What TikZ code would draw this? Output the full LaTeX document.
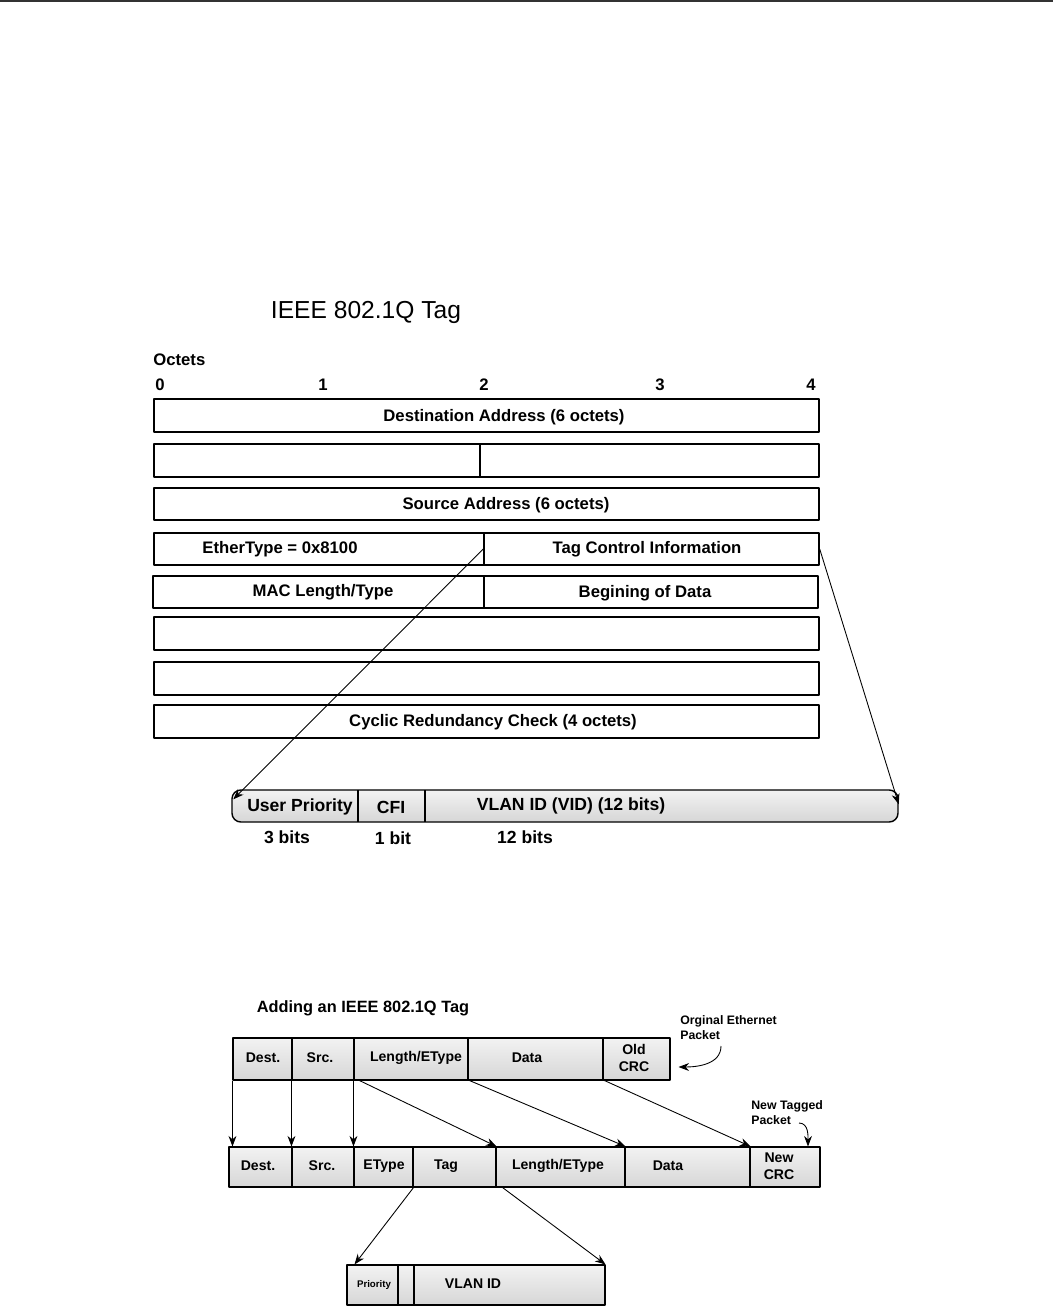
\documentclass[tikz,border=0pt]{standalone}
\usepackage{fontspec}
\setmainfont{Liberation Sans}
\usetikzlibrary{fit,arrows.meta}

\begin{document}
\begin{tikzpicture}[x=0.02cm,y=-0.02cm,line join=round,>={Stealth[length=6pt,width=4.5pt]},
		cell/.style={draw,line width=0.8pt,inner sep=0pt},
		pkt/.style={cell,line width=0.6pt,top color=gray!10,bottom color=gray!32},
		hdr/.style={font=\fontsize{14}{16}\selectfont,inner sep=0pt},
		lbl/.style={font=\fontsize{9.5}{11}\selectfont\bfseries,inner sep=0pt},
		bitlbl/.style={font=\fontsize{10}{12}\selectfont\bfseries,inner sep=0pt},
		pktlbl/.style={font=\fontsize{8}{9.5}\selectfont\bfseries,inner sep=0pt,align=center},
		note/.style={font=\fontsize{7}{8.6}\selectfont\bfseries,inner sep=0pt,align=left},
		link/.style={->,line width=0.5pt}]
	\useasboundingbox (0,0) rectangle (1053,1310);
	\draw[line width=1.4pt,black!80] (0,1) -- (1053,1);
	% frame layout with the tag
	\node[hdr] (tagtitle) at (366,312) {IEEE 802.1Q Tag};
	\node[lbl,anchor=west] (octets) at (153,360) {Octets};
	\foreach \n/\x in {0/160,1/323,2/484,3/660,4/811}
		\node[lbl] (oct\n) at (\x,385) {\n};
	\node[cell,fit={(154,399) (819,432)}] (dstrow) {};
	\node[lbl] (dsttxt) at (504,417) {Destination Address (6 octets)};
	\node[cell,fit={(154,444) (480,477)}] (dstlo) {};
	\node[cell,fit={(480,444) (819,477)}] (srchi) {};
	\node[cell,fit={(154,488) (819,520)}] (srcrow) {};
	\node[lbl] (srctxt) at (506,505) {Source Address (6 octets)};
	\node[cell,fit={(154,533) (484,565)}] (ethtype) {};
	\node[lbl] (ethtxt) at (280,549) {EtherType = 0x8100};
	\node[cell,fit={(484,533) (819,565)}] (tagctl) {};
	\node[lbl] (tagtxt) at (647,549) {Tag Control Information};
	\node[cell,fit={(153,576) (484,608)}] (mactype) {};
	\node[lbl] (mactxt) at (323,592) {MAC Length/Type};
	\node[cell,fit={(484,576) (818,608)}] (databeg) {};
	\node[lbl] (begtxt) at (645,593) {Begining of Data};
	\node[cell,fit={(154,617) (819,650)}] (datarowa) {};
	\node[cell,fit={(154,662) (819,695)}] (datarowb) {};
	\node[cell,fit={(154,705) (819,738)}] (crcrow) {};
	\node[lbl] (crctxt) at (493,722) {Cyclic Redundancy Check (4 octets)};
	% tag control bits
	\node[pkt,line width=0.8pt,rounded corners=5pt,fit={(232,790) (898,822)}] (tcibar) {};
	\draw[line width=0.8pt] (358,790) -- (358,822) (425,790) -- (425,822);
	\node[bitlbl] (uptxt) at (300,807) {User Priority};
	\node[bitlbl] (cfitxt) at (391,807) {CFI};
	\node[bitlbl] (vidtxt) at (571,806) {VLAN ID (VID) (12 bits)};
	\node[bitlbl] (upbits) at (287,837) {3 bits};
	\node[bitlbl] (cfibits) at (393,838) {1 bit};
	\node[bitlbl] (vidbits) at (525,837) {12 bits};
	\draw[link] (tagctl.west) -- ([shift={(0.04cm,-0.2cm)}]tcibar.north west);
	\draw[link] (tagctl.east) -- ([yshift=-0.3cm]tcibar.north east);
	% adding the tag
	\node[font=\fontsize{9.3}{11}\selectfont\bfseries,inner sep=0pt] (addtitle) at (363,1008) {Adding an IEEE 802.1Q Tag};
	\foreach \nm/\xa/\xb/\tc/\tx in {desta/233/292/263/Dest.,srca/292/354/320/Src.,lena/354/468/416/{Length/EType},dataa/468/603/527/Data,crca/603/670/634/{Old\\CRC}}{
		\node[pkt,fit={(\xa,1038) (\xb,1080)}] (\nm) {};
		\node[pktlbl] (\nm txt) at (\tc,1058) {\tx};
	}
	\foreach \nm/\xa/\xb/\tc/\tx in {destb/229/292/258/Dest.,srcb/292/354/322/Src.,etypeb/354/413/384/EType,tagb/413/496/446/Tag,lenb/496/625/558/{Length/EType},datab/625/750/668/Data,crcb/750/820/779/{New\\CRC}}{
		\node[pkt,fit={(\xa,1147) (\xb,1187)}] (\nm) {};
		\node[pktlbl] (\nm txt) at (\tc,1166) {\tx};
	}
	\node[note,anchor=north west] (origlbl) at (680,1015) {Orginal Ethernet\\Packet};
	\node[note,anchor=north west] (newlbl) at (751,1100) {New Tagged\\Packet};
	\coordinate (origtail) at (721,1046);
	\coordinate (newtail) at (799,1123);
	\draw[link] (origtail) to[out=-90,in=0] ([shift={(0.16cm,-0.16cm)}]crca.east);
	\draw[link] (newtail) to[out=0,in=90] ([xshift=0.46cm]crcb.north);
	\foreach \a/\b in {desta/destb,srca/srcb,lena/etypeb}
		\draw[link] (\a.south west) -- (\a.south west |- \b.north);
	\draw[link] ([xshift=0.12cm]lena.south west) -- (tagb.north east);
	\draw[link] ([xshift=0.04cm]dataa.south west) -- (lenb.north east);
	\draw[link] ([xshift=0.04cm]crca.south west) -- (datab.north east);
	% priority and VLAN ID
	\node[pkt,fit={(347,1265) (605,1305)}] (vlan) {};
	\draw[line width=0.6pt] (398,1265) -- (398,1305) (414,1265) -- (414,1305);
	\node[font=\fontsize{5.5}{6}\selectfont\bfseries,inner sep=0pt] (pritxt) at (374,1285) {Priority};
	\node[pktlbl] (vlantxt) at (473,1284) {VLAN ID};
	\draw[link] (etypeb.south east) -- ([xshift=0.16cm]vlan.north west);
	\draw[link] ([xshift=0.12cm]tagb.south east) -- (vlan.north east);
\end{tikzpicture}
\end{document}
